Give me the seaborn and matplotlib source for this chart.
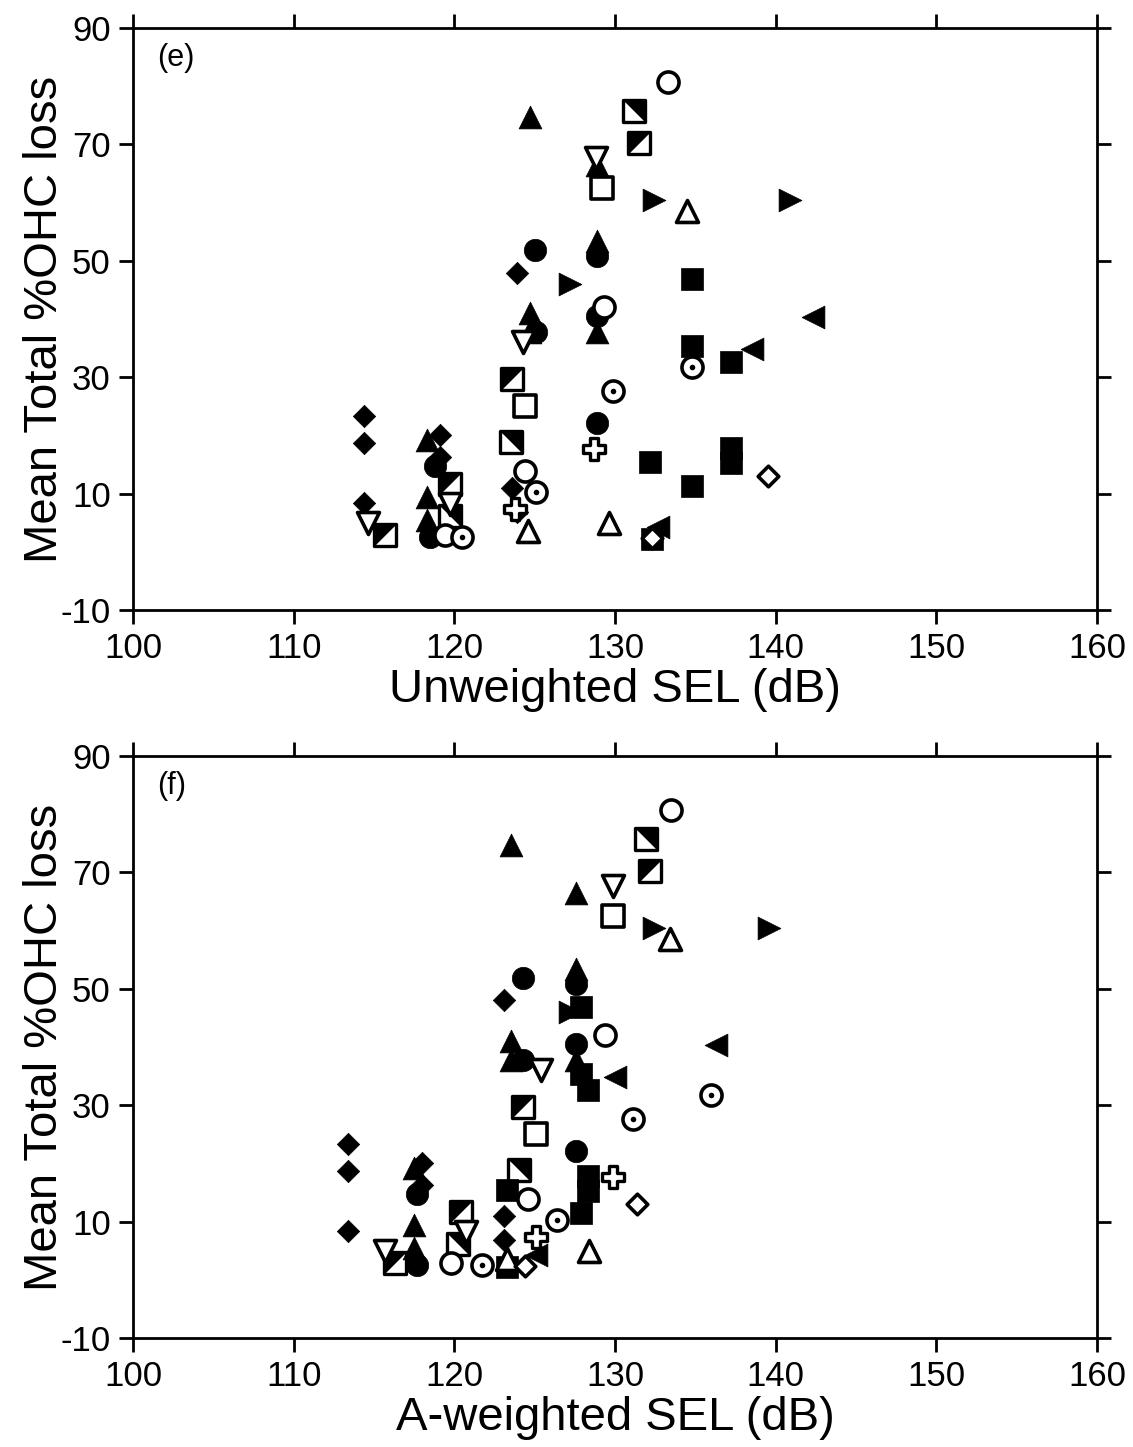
import pandas as pd
import matplotlib
matplotlib.use("Agg")
import matplotlib.pyplot as plt
import seaborn as sns

# === Data: (unweighted SEL, A-weighted SEL, mean total %OHC loss) per symbol ===
filled_diamond_unw = [114.4, 114.4, 114.4, 119.1, 119.1, 123.9, 123.6, 123.9]
filled_diamond_aw = [113.4, 113.4, 113.4, 118.0, 118.0, 123.1, 123.1, 123.1]
filled_diamond_loss = [23.4, 18.7, 8.4, 20.1, 16.3, 48.0, 11.0, 6.8]

filled_tri_up_unw = [124.7, 128.9, 128.9, 124.7, 124.7, 128.9, 118.3, 118.3, 118.3]
filled_tri_up_aw = [123.5, 127.6, 127.6, 123.5, 123.5, 127.6, 117.5, 117.5, 117.5]
filled_tri_up_loss = [74.7, 66.4, 53.4, 41.0, 37.7, 37.8, 19.3, 9.5, 5.5]

filled_circle_unw = [125.0, 128.9, 128.9, 125.1, 128.9, 118.8, 118.5]
filled_circle_aw = [124.3, 127.6, 127.6, 124.3, 127.6, 117.7, 117.7]
filled_circle_loss = [51.8, 50.8, 40.6, 37.8, 22.2, 14.7, 2.6]

filled_square_unw = [134.8, 134.8, 137.2, 132.2, 134.8, 137.2, 137.2, 132.3]
filled_square_aw = [127.9, 127.9, 128.3, 123.3, 127.9, 128.3, 128.3, 123.3]
filled_square_loss = [46.8, 35.3, 32.7, 15.4, 11.4, 17.8, 15.3, 2.2]

open_circle_unw = [133.3, 129.3, 124.4, 119.4]
open_circle_aw = [133.5, 129.4, 124.6, 119.8]
open_circle_loss = [80.8, 42.1, 13.9, 2.9]

open_square_unw = [129.2, 124.4]
open_square_aw = [129.9, 125.1]
open_square_loss = [62.5, 25.0]

open_tri_up_unw = [134.5, 124.6, 129.6]
open_tri_up_aw = [133.4, 123.3, 128.4]
open_tri_up_loss = [58.5, 3.5, 5.0]

open_tri_down_unw = [128.8, 124.3, 114.6, 119.7]
open_tri_down_aw = [129.9, 125.4, 115.7, 120.7]
open_tri_down_loss = [67.7, 36.1, 5.0, 8.2]

open_diamond_unw = [139.5, 132.3]
open_diamond_aw = [131.4, 124.4]
open_diamond_loss = [13.0, 2.3]

open_cross_unw = [128.7, 123.8]
open_cross_aw = [129.9, 125.1]
open_cross_loss = [17.6, 7.4]

dot_circle_unw = [134.8, 129.9, 125.1, 120.5]
dot_circle_aw = [136.0, 131.1, 126.4, 121.7]
dot_circle_loss = [31.7, 27.6, 10.3, 2.5]

tri_right_unw = [132.4, 140.9, 127.2]
tri_right_aw = [132.4, 139.6, 127.2]
tri_right_loss = [60.5, 60.5, 46.0]

tri_left_unw = [142.3, 138.5, 132.7]
tri_left_aw = [136.3, 130.0, 125.1]
tri_left_loss = [40.4, 34.8, 4.2]

half_sq_a_unw = [131.2, 123.5, 119.7]
half_sq_a_aw = [131.9, 124.0, 120.2]
half_sq_a_loss = [75.7, 18.9, 6.1]

half_sq_b_unw = [131.5, 123.6, 119.7, 115.7]
half_sq_b_aw = [132.2, 124.3, 120.4, 116.3]
half_sq_b_loss = [70.2, 29.7, 11.7, 2.9]

x_ticks = [100, 110, 120, 130, 140, 150, 160]
y_ticks = [-10, 10, 30, 50, 70, 90]

# half-filled square: the black triangle drawn over an open square
upper_right = [(-1, 1), (1, 1), (1, -1)]
upper_left = [(-1, -1), (-1, 1), (1, 1)]

groups = [
    (half_sq_a_unw, half_sq_a_aw, half_sq_a_loss, "half_a"),
    (half_sq_b_unw, half_sq_b_aw, half_sq_b_loss, "half_b"),
    (open_square_unw, open_square_aw, open_square_loss, "open_square"),
    (filled_square_unw, filled_square_aw, filled_square_loss, "filled_square"),
    (filled_diamond_unw, filled_diamond_aw, filled_diamond_loss, "filled_diamond"),
    (filled_tri_up_unw, filled_tri_up_aw, filled_tri_up_loss, "filled_tri_up"),
    (filled_circle_unw, filled_circle_aw, filled_circle_loss, "filled_circle"),
    (tri_right_unw, tri_right_aw, tri_right_loss, "tri_right"),
    (tri_left_unw, tri_left_aw, tri_left_loss, "tri_left"),
    (open_circle_unw, open_circle_aw, open_circle_loss, "open_circle"),
    (open_tri_up_unw, open_tri_up_aw, open_tri_up_loss, "open_tri_up"),
    (open_tri_down_unw, open_tri_down_aw, open_tri_down_loss, "open_tri_down"),
    (open_cross_unw, open_cross_aw, open_cross_loss, "open_cross"),
    (dot_circle_unw, dot_circle_aw, dot_circle_loss, "dot_circle"),
    (open_diamond_unw, open_diamond_aw, open_diamond_loss, "open_diamond"),
]

frames = []
for unw, aw, loss, sym in groups:
    frames.append(pd.DataFrame({"unw": unw, "aw": aw, "loss": loss, "sym": sym}))
df = pd.concat(frames, ignore_index=True)

sns.set_style("ticks")
plt.rcParams["font.family"] = ["Liberation Sans", "DejaVu Sans"]
plt.rcParams["axes.unicode_minus"] = False
for key in ["text.color", "axes.labelcolor", "axes.edgecolor", "xtick.color", "ytick.color"]:
    plt.rcParams[key] = "black"


def draw_symbol(ax, sub, xcol, sym):
    kw = dict(data=sub, x=xcol, y="loss", ax=ax, legend=False, zorder=3)
    if sym in ("half_a", "half_b"):
        sns.scatterplot(marker="s", s=230, color="white", edgecolor="black", linewidth=2.4, **kw)
        verts = upper_right if sym == "half_a" else upper_left
        sns.scatterplot(marker=verts, s=200, color="black", edgecolor="black", linewidth=0.5, **kw)
    elif sym == "open_square":
        sns.scatterplot(marker="s", s=230, color="white", edgecolor="black", linewidth=2.6, **kw)
    elif sym == "filled_square":
        sns.scatterplot(marker="s", s=260, color="black", edgecolor="black", linewidth=0.5, **kw)
    elif sym == "filled_diamond":
        sns.scatterplot(marker="D", s=130, color="black", edgecolor="black", linewidth=0.5, **kw)
    elif sym == "filled_tri_up":
        sns.scatterplot(marker="^", s=270, color="black", edgecolor="black", linewidth=0.5, **kw)
    elif sym == "filled_circle":
        sns.scatterplot(marker="o", s=260, color="black", edgecolor="black", linewidth=0.5, **kw)
    elif sym == "tri_right":
        sns.scatterplot(marker=">", s=270, color="black", edgecolor="black", linewidth=0.5, **kw)
    elif sym == "tri_left":
        sns.scatterplot(marker="<", s=270, color="black", edgecolor="black", linewidth=0.5, **kw)
    elif sym == "open_circle":
        sns.scatterplot(marker="o", s=230, color="white", edgecolor="black", linewidth=2.6, **kw)
    elif sym == "open_tri_up":
        sns.scatterplot(marker="^", s=250, color="white", edgecolor="black", linewidth=2.6, **kw)
    elif sym == "open_tri_down":
        sns.scatterplot(marker="v", s=250, color="white", edgecolor="black", linewidth=2.6, **kw)
    elif sym == "open_cross":
        sns.scatterplot(marker="P", s=250, color="white", edgecolor="black", linewidth=2.4, **kw)
    elif sym == "dot_circle":
        sns.scatterplot(marker="o", s=230, color="white", edgecolor="black", linewidth=2.6, **kw)
        sns.scatterplot(marker="o", s=16, color="black", edgecolor="black", linewidth=0, **kw)
    elif sym == "open_diamond":
        sns.scatterplot(marker="D", s=110, color="white", edgecolor="black", linewidth=2.6, **kw)


# === Plot ===
fig = plt.figure(figsize=(11.33, 14.47), dpi=100)
ax_e = fig.add_axes([0.1174, 0.5784, 0.8508, 0.4022])
ax_f = fig.add_axes([0.1174, 0.0753, 0.8508, 0.4022])

panels = [
    (ax_e, "unw", "(e)", "Unweighted SEL (dB)"),
    (ax_f, "aw", "(f)", "A-weighted SEL (dB)"),
]

for ax, xcol, tag, xlabel in panels:
    for _, _, _, sym in groups:
        draw_symbol(ax, df[df["sym"] == sym], xcol, sym)

    ax.set_xlim(100, 160)
    ax.set_ylim(-10, 90)
    ax.set_xticks(x_ticks)
    ax.set_yticks(y_ticks)
    ax.tick_params(axis="both", which="major", direction="out", length=10, width=2,
                   labelsize=25, top=True, right=True, pad=6)
    for sp in ax.spines.values():
        sp.set_visible(True)
        sp.set_linewidth(2)

    ax.set_xlabel(xlabel, fontsize=34)
    ax.set_ylabel("Mean Total %OHC loss", fontsize=34)
    ax.xaxis.set_label_coords(0.5, -0.10)
    ax.yaxis.set_label_coords(-0.068, 0.5)
    ax.text(0.025, 0.975, tag, transform=ax.transAxes, fontsize=22, va="top", ha="left")

# === Save ===
plt.savefig("out.png", dpi=100)
plt.close()
